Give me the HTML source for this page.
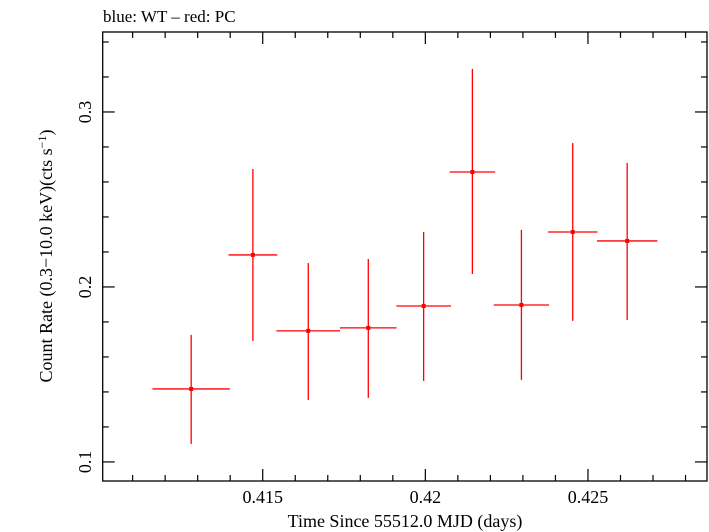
<!DOCTYPE html>
<html><head><meta charset="utf-8"><style>
html,body{margin:0;padding:0;background:#fff;}
svg{display:block;font-family:"Liberation Serif","DejaVu Serif",serif;}
</style></head><body>
<svg id="chart" width="709" height="532" viewBox="0 0 709 532" xmlns="http://www.w3.org/2000/svg">
<text x="103" y="22" font-size="17" fill="#000">blue: WT – red: PC</text>
<rect x="102.7" y="32" width="604.3" height="449" fill="none" stroke="#000" stroke-width="1.3"/>
<g id="axes"></g>
<g id="series"></g>
<text x="405" y="527" font-size="18" text-anchor="middle" fill="#000">Time Since 55512.0 MJD (days)</text>
<text transform="translate(52,256) rotate(-90)" font-size="18" text-anchor="middle" fill="#000">Count Rate (0.3−10.0 keV)(cts s<tspan dy="-6" font-size="12">−1</tspan><tspan dy="6">)</tspan></text>
</svg>
<script>
const times=[0.412800,0.414698,0.416400,0.418246,0.419948,0.421446,0.422954,0.424532,0.426206];
const halfWidths=[0.00119,0.00075,0.00098,0.00087,0.00084,0.00070,0.00085,0.00076,0.00093];
const rates=[0.1417,0.2183,0.1749,0.1766,0.1891,0.2657,0.1897,0.2314,0.2263];
const errUpper=[0.1726,0.2674,0.2137,0.2160,0.2314,0.3246,0.2326,0.2823,0.2709];
const errLower=[0.1103,0.1691,0.1354,0.1366,0.1463,0.2074,0.1469,0.1806,0.1811];
const xMajorTicks=[0.415,0.42,0.425];
const xTickLabels=["0.415","0.42","0.425"];
const yMajorTicks=[0.1,0.2,0.3];
const yTickLabels=["0.1","0.2","0.3"];

const X0=102.7,X1=707,Y0=32,Y1=481;
const xMin=0.41008,xMax=0.42866,yMin=0.0891,yMax=0.3457;
function xs(v){return X0+(v-xMin)/(xMax-xMin)*(X1-X0);}
function ys(v){return Y1-(v-yMin)/(yMax-yMin)*(Y1-Y0);}
const NS="http://www.w3.org/2000/svg";
function mk(tag,attrs,parent){const e=document.createElementNS(NS,tag);for(const k in attrs)e.setAttribute(k,attrs[k]);parent.appendChild(e);return e;}
const axes=document.getElementById('axes');
for(let i=Math.ceil(xMin*1000);i<=Math.floor(xMax*1000);i++){
  const v=i/1000;const x=xs(v);
  const major=xMajorTicks.some(t=>Math.abs(t-v)<1e-9);
  const L=major?12:6;
  const t1=mk('line',{x1:x,x2:x,y1:Y1,y2:Y1-L,stroke:'#000','stroke-width':1.2},axes);
  
  
  const t2=mk('line',{x1:x,x2:x,y1:Y0,y2:Y0+L,stroke:'#000','stroke-width':1.2},axes);
  
  
}
xMajorTicks.forEach((v,i)=>{
  const t=mk('text',{x:xs(v),y:503,'font-size':18,'text-anchor':'middle',fill:'#000'},axes);
  t.textContent=xTickLabels[i];
  
  
});
for(let i=Math.ceil(yMin*50);i<=Math.floor(yMax*50);i++){
  const v=i/50;const y=ys(v);
  const major=yMajorTicks.some(t=>Math.abs(t-v)<1e-9);
  const L=major?12:6;
  const t1=mk('line',{x1:X0,x2:X0+L,y1:y,y2:y,stroke:'#000','stroke-width':1.2},axes);
  
  
  const t2=mk('line',{x1:X1,x2:X1-L,y1:y,y2:y,stroke:'#000','stroke-width':1.2},axes);
  
  
}
yMajorTicks.forEach((v,i)=>{
  const y=ys(v);
  const t=mk('text',{transform:`translate(91,${y}) rotate(-90)`,'font-size':18,'text-anchor':'middle',fill:'#000'},axes);
  t.textContent=yTickLabels[i];
  
  
});
const ser=document.getElementById('series');
times.forEach((t,i)=>{
  const x=xs(t),y=ys(rates[i]);
  const h=mk('line',{x1:xs(t-halfWidths[i]),x2:xs(t+halfWidths[i]),y1:y,y2:y,stroke:'#f00','stroke-width':1.3},ser);
  
  
  const v=mk('line',{x1:x,x2:x,y1:ys(errUpper[i]),y2:ys(errLower[i]),stroke:'#f00','stroke-width':1.3},ser);
  
  
  const p=mk('rect',{x:x-2,y:y-2,width:4,height:4,fill:'#f00'},ser);
  
  
});
</script>
</body></html>
